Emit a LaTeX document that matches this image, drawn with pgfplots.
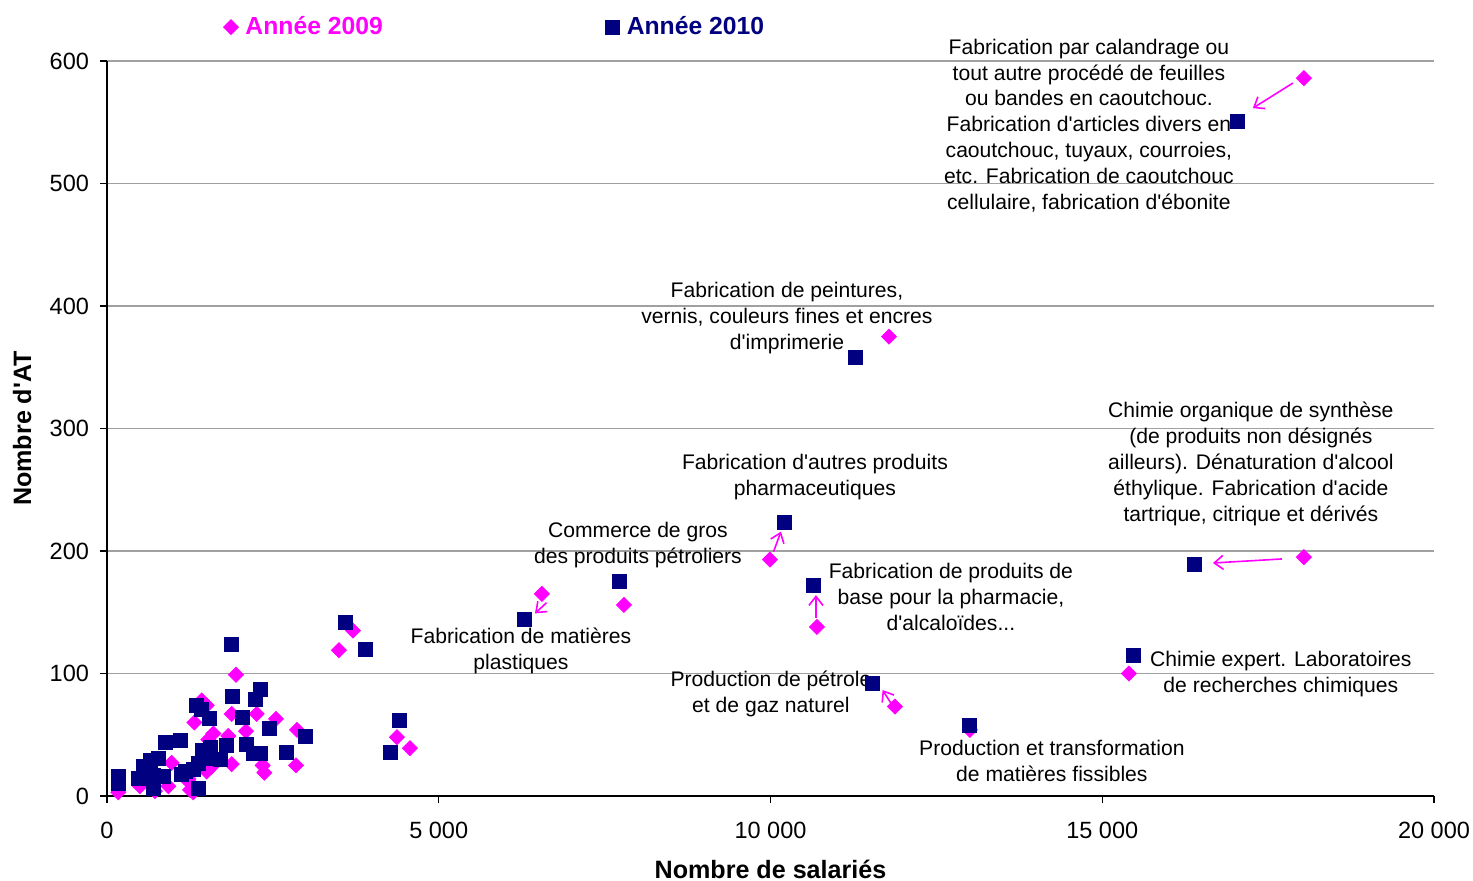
\documentclass[border=0pt]{standalone}
\usepackage{pgfplots}
\pgfplotsset{compat=1.18}
\usepackage{fontspec}
\setmainfont{Liberation Sans}
\usetikzlibrary{arrows.meta}
\definecolor{mag}{RGB}{255,0,255}
\definecolor{nav}{RGB}{0,0,128}
\definecolor{gridgray}{RGB}{160,160,160}
\newcommand{\q}{\textquotesingle}
\begin{document}
\begin{tikzpicture}
\begin{axis}[
  scale only axis,
  width=663.5bp, height=367.5bp,
  xmin=0, xmax=20000, ymin=0, ymax=600,
  xtick={0,5000,10000,15000,20000},
  ytick={0,100,200,300,400,500,600},
  scaled x ticks=false,
  axis x line=bottom, axis y line=left,
  axis line style={-, black, line width=0.6bp},
  tick align=outside,
  major tick length=3.5bp,
  tick style={black, line width=0.6bp},
  ymajorgrids,
  major grid style={gridgray, line width=0.6bp},
  /pgf/number format/assume math mode=true,
  xticklabel style={font=\fontsize{11.8}{14}\selectfont, yshift=-6bp, /pgf/number format/.cd, 1000 sep={\ }, fixed},
  yticklabel style={font=\fontsize{11.8}{14}\selectfont, xshift=-2bp},
  xlabel={Nombre de salariés},
  ylabel={Nombre d\q AT},
  label style={font=\fontsize{12.6}{15}\selectfont\bfseries},
  x label style={at={(axis description cs:0.5,-0.1)}, anchor=center},
  y label style={at={(axis description cs:-0.064,0.5)}, anchor=center},
  legend style={at={(axis description cs:0.083,1.046)}, anchor=west, draw=none, fill=none,
    font=\fontsize{12.4}{15}\selectfont\bfseries, legend columns=2,
    /tikz/every odd column/.append style={column sep=1.5bp},
    /tikz/every even column/.append style={column sep=109.5bp}},
  legend image code/.code={\draw[#1] plot coordinates {(0bp,0bp)};},
  clip=false,
]
\addplot[only marks, mark=square*, mark size=2.65bp, mark options={rotate=45, fill=mag, draw=mag}] coordinates {
(18039,586) (11785,375) (9991,193) (6555,165) (7791,156) (10700,138) (18039,195)
(15401,100) (11875,73) (13005,54) (3496,119) (3707,135) (4370,48) (4566,39)
(2863,54) (2848,25) (2547,63) (1944,99) (1427,78) (1502,74) (1316,60) (1879,67)
(2256,67) (2095,53) (1602,51) (1828,49) (1879,26) (2346,25) (2371,19) (1502,20)
(1577,24) (1226,12) (1301,3) (974,27) (497,8) (171,3) (723,4) (924,8) (1251,5)
(1226,14) (1527,46)
};
\addlegendentry{\textcolor{mag}{Année 2009}}
\addplot[only marks, mark=square*, mark size=3.5bp, mark options={fill=nav, draw=nav}] coordinates {
(17044,551) (11272,358) (10202,223) (7716,175) (6284,144) (10640,172) (16396,189)
(15462,115) (11529,92) (13005,58) (3587,142) (3888,120) (4400,62) (4265,36)
(2984,49) (2698,36) (1879,124) (1894,81) (2306,87) (2230,79) (1340,74) (1430,71)
(1542,63) (2045,64) (2441,55) (1110,45) (874,44) (1804,41) (2105,42) (2205,35)
(2306,35) (1552,40) (1440,37) (1703,30) (1502,31) (1377,27) (1301,22) (1175,20)
(648,29) (773,31) (548,24) (472,14) (171,16) (171,10) (698,17) (849,16) (698,6)
(1125,18) (1377,6)
};
\addlegendentry{\textcolor{nav}{Année 2010}}
% arrows
\begin{scope}[mag, line width=0.8bp, -{Straight Barb[length=4.5bp,width=7bp]}]
\draw (axis cs:17873,582) -- (axis cs:17270,561.5);
\draw (axis cs:17708,193.5) -- (axis cs:16668,190.2);
\draw (axis cs:10046,199.4) -- (axis cs:10157,215.8);
\draw (axis cs:10685,145) -- (axis cs:10685,164);
\draw (axis cs:11815,75.7) -- (axis cs:11690,86.5);
\draw (axis cs:6626,157.8) -- (axis cs:6450,149.1);
\end{scope}
% annotations
\begin{scope}[every node/.style={align=center, inner sep=0pt, font=\fontsize{10.6}{13}\selectfont}]
\node at (axis cs:14799,547.3) {Fabrication par calandrage ou\\tout autre procédé de feuilles\\ou bandes en caoutchouc.\\Fabrication d\q articles divers en\\caoutchouc, tuyaux, courroies,\\etc. Fabrication de caoutchouc\\cellulaire, fabrication d\q ébonite};
\node at (axis cs:10248,390) {Fabrication de peintures,\\vernis, couleurs fines et encres\\d\q imprimerie};
\node at (axis cs:10670,260.4) {Fabrication d\q autres produits\\pharmaceutiques};
\node at (axis cs:8002,204.5) {Commerce de gros\\des produits pétroliers};
\node at (axis cs:6239,118.4) {Fabrication de matières\\plastiques};
\node at (axis cs:12719,162.4) {Fabrication de produits de\\base pour la pharmacie,\\d\q alcaloïdes...};
\node at (axis cs:17240,271) {Chimie organique de synthèse\\(de produits non désignés\\ailleurs). Dénaturation d\q alcool\\éthylique. Fabrication d\q acide\\tartrique, citrique et dérivés};
\node at (axis cs:10006,83.3) {Production de pétrole\\et de gaz naturel};
\node at (axis cs:17692,99.6) {Chimie expert. Laboratoires\\de recherches chimiques};
\node at (axis cs:14241,28.6) {Production et transformation\\de matières fissibles};
\end{scope}
\coordinate (bl) at (rel axis cs:0,0);
\coordinate (tr) at (rel axis cs:1,1);
\end{axis}
\pgfresetboundingbox
\path[use as bounding box] ([xshift=-53.5bp,yshift=-42.5bp]bl) rectangle ([xshift=19.5bp,yshift=30.5bp]tr);
\end{tikzpicture}
\end{document}
